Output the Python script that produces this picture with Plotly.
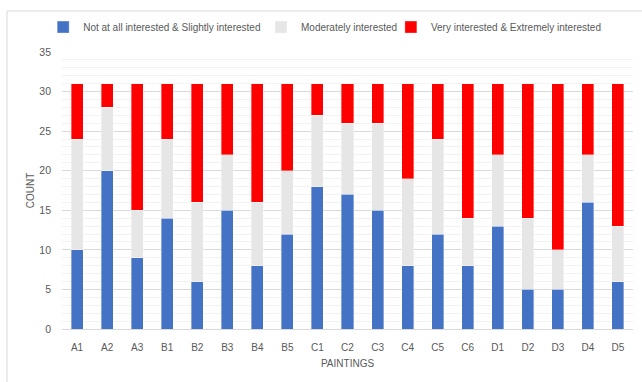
import plotly.graph_objects as go

# Survey responses per painting (31 respondents each)
paintings = ["A1", "A2", "A3", "B1", "B2", "B3", "B4", "B5",
             "C1", "C2", "C3", "C4", "C5", "C6",
             "D1", "D2", "D3", "D4", "D5"]
low_interest = [10, 20, 9, 14, 6, 15, 8, 12, 18, 17, 15, 8, 12, 8, 13, 5, 5, 16, 6]
moderate = [14, 8, 6, 10, 10, 7, 8, 8, 9, 9, 11, 11, 12, 6, 9, 9, 5, 6, 7]
high_interest = [7, 3, 16, 7, 15, 9, 15, 11, 4, 5, 5, 12, 7, 17, 9, 17, 21, 9, 18]

series = [
    ("Not at all interested & Slightly interested", low_interest, "#4472C4", "legend2"),
    ("Moderately interested", moderate, "#E7E6E6", "legend3"),
    ("Very interested & Extremely interested", high_interest, "#FF0000", "legend4"),
]

fig = go.Figure()
for name, vals, color, leg in series:
    fig.add_trace(go.Bar(
        x=paintings, y=vals, name=name, legend=leg,
        marker=dict(color=color, line=dict(color="rgba(255,255,255,0.6)", width=0.6)),
    ))

text_color = "#595959"
font_family = "Liberation Sans, sans-serif"
legend_font = dict(size=10, color=text_color)


def legend_at(x):
    # one legend box per series, laid out in a single row above the plot
    return dict(orientation="h", x=x, xanchor="left", y=1.09, yanchor="middle",
                bgcolor="rgba(0,0,0,0)", font=legend_font, itemwidth=30)


fig.update_layout(
    barmode="stack",
    bargap=0.6,
    width=642, height=382,
    margin=dict(l=62, r=9, t=52, b=53, autoexpand=False),
    paper_bgcolor="white",
    plot_bgcolor="white",
    font=dict(family=font_family, size=10, color=text_color),
    legend2=legend_at(-0.033),
    legend3=legend_at(0.3485),
    legend4=legend_at(0.576),
    xaxis=dict(
        title=dict(text="PAINTINGS", font=dict(size=10, color=text_color), standoff=7),
        showgrid=False, showline=True, linecolor="#D9D9D9", linewidth=1,
        ticks="", tickfont=dict(size=10, color=text_color), ticklabelstandoff=9,
    ),
    yaxis=dict(
        title=dict(text="COUNT", font=dict(size=10, color=text_color), standoff=2),
        range=[0, 35], dtick=5, showgrid=True, gridcolor="#D9D9D9", gridwidth=1,
        zeroline=False, ticks="", tickfont=dict(size=10.5, color=text_color),
        ticklabelstandoff=10,
        minor=dict(dtick=1, showgrid=True, gridcolor="#F2F2F2", gridwidth=1),
    ),
    shapes=[
        dict(type="line", xref="paper", yref="paper", x0=-0.0963, x1=1.02,
             y0=1.148, y1=1.148, line=dict(color="#D9D9D9", width=1)),
        dict(type="line", xref="paper", yref="paper", x0=-0.0963, x1=-0.0963,
             y0=1.148, y1=-0.2, line=dict(color="#D9D9D9", width=1)),
    ],
)

fig.write_html("out.html")
